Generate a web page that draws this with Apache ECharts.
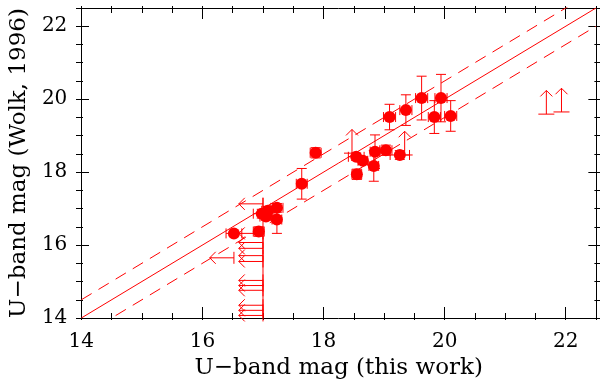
<!DOCTYPE html>
<html>
<head>
<meta charset="utf-8">
<script src="https://cdn.jsdelivr.net/npm/echarts@6/dist/echarts.min.js"></script>
<style>
html, body { margin: 0; background: #fff; }
#chart { width: 600px; height: 385px; }
</style>
</head>
<body>
<div id="chart"></div>
<script>
// detections: U mag in this work vs Wolk (1996), with errors
const detX  = [16.52, 16.93, 16.98, 17.08, 17.05, 17.23, 17.23, 17.64, 17.87, 18.54, 18.65,
               18.55, 18.85, 18.83, 19.03, 19.26, 19.09, 19.36, 19.62, 19.94, 19.83, 20.10];
const detY  = [16.32, 16.37, 16.86, 16.94, 16.78, 17.02, 16.70, 17.68, 18.53, 18.42, 18.31,
               17.94, 18.56, 18.17, 18.60, 18.47, 19.51, 19.70, 20.03, 20.03, 19.51, 19.54];
const detXe = [0.13, 0.09, 0.14, 0.10, 0.10, 0.10, 0.08, 0.09, 0.09, 0.13, 0.08,
               0.08, 0.08, 0.08, 0.10, 0.16, 0.10, 0.10, 0.10, 0.10, 0.10, 0.10];
const detYe = [0.05, 0.13, 0.12, 0.12, 0.10, 0.12, 0.38, 0.42, 0.14, 0.10, 0.10,
               0.14, 0.46, 0.42, 0.14, 0.12, 0.35, 0.42, 0.60, 0.65, 0.45, 0.42];

// upper limits in this work (arrows to the left)
const ulX = [17.0, 17.0, 17.0, 17.0, 17.0, 17.0, 17.0, 17.0, 17.0, 17.0, 17.0, 17.0, 16.52];
const ulY = [17.13, 16.32, 16.07, 15.91, 15.71, 15.55, 15.03, 14.89, 14.76, 14.35, 14.21, 14.07, 15.65];
const ulBarX = [17.0, 17.0];
const ulBarY = [14.0, 17.3];

// lower limits in Wolk (1996) (arrows upward)
const llX = [18.47, 19.34, 21.68, 21.93];
const llY = [18.52, 18.47, 19.59, 19.65];

// one-to-one line and +-0.5 mag band
const diagX = [14, 22.5];
const band = 0.5;

const ulLen = 0.4;
const llLen = 0.65;
const RED = '#ff0000';
const FONT = 'DejaVu Serif';

const W = 600, H = 385;
const G = { left: 76, right: 4, top: 8, bottom: 65 };
const plotW = W - G.left - G.right;
const plotH = H - G.top - G.bottom;

const chart = echarts.init(document.getElementById('chart'));

const lineStyle = { stroke: RED, lineWidth: 1 };
function seg(x1, y1, x2, y2) {
  return { type: 'line', shape: { x1: x1, y1: y1, x2: x2, y2: y2 }, style: lineStyle };
}

function renderErr(params, api) {
  const x = api.value(0), y = api.value(1), xe = api.value(2), ye = api.value(3);
  const c = api.coord([x, y]);
  const l = api.coord([x - xe, y]), r = api.coord([x + xe, y]);
  const t = api.coord([x, y + ye]), b = api.coord([x, y - ye]);
  const cap = 5;
  return {
    type: 'group',
    children: [
      seg(l[0], c[1], r[0], c[1]),
      seg(l[0], c[1] - cap, l[0], c[1] + cap),
      seg(r[0], c[1] - cap, r[0], c[1] + cap),
      seg(c[0], t[1], c[0], b[1]),
      seg(c[0] - cap, t[1], c[0] + cap, t[1]),
      seg(c[0] - cap, b[1], c[0] + cap, b[1])
    ]
  };
}

function renderLeft(params, api) {
  const p = api.coord([api.value(0), api.value(1)]);
  const q = api.coord([api.value(0) - ulLen, api.value(1)]);
  const h = 6;
  return {
    type: 'group',
    children: [
      seg(p[0], p[1], q[0], q[1]),
      seg(p[0], p[1] - 6, p[0], p[1] + 6),
      seg(q[0], q[1], q[0] + h, q[1] - h),
      seg(q[0], q[1], q[0] + h, q[1] + h)
    ]
  };
}

function renderUp(params, api) {
  const p = api.coord([api.value(0), api.value(1)]);
  const q = api.coord([api.value(0), api.value(1) + llLen]);
  const h = 6, w = 8;
  return {
    type: 'group',
    children: [
      seg(p[0], p[1], q[0], q[1]),
      seg(p[0] - w, p[1], p[0] + w, p[1]),
      seg(q[0], q[1], q[0] - h, q[1] + h),
      seg(q[0], q[1], q[0] + h, q[1] + h)
    ]
  };
}

// frame axes carry line and labels; tick axes sit on the opposite edge
// (negative offset) so their outward ticks point into the plot
function axes(dim, posA, posB, name) {
  const span = dim === 'x' ? plotH : plotW;
  const base = {
    type: 'value', min: 14, max: 22.5,
    splitLine: { show: false },
    axisLabel: { show: false },
    axisLine: { show: false },
    axisTick: { show: false }
  };
  const list = [
    Object.assign({}, base, {
      position: posA, interval: 2,
      axisLine: { show: true, onZero: false, lineStyle: { color: '#000', width: 1 } },
      axisLabel: {
        show: true, color: '#000', fontFamily: FONT, fontSize: 20, margin: 14
      },
      name: name, nameLocation: 'middle', nameGap: dim === 'x' ? 39 : 35,
      nameTextStyle: { color: '#000', fontFamily: FONT, fontSize: 23 }
    }),
    Object.assign({}, base, {
      position: posB, interval: 2,
      axisLine: { show: true, onZero: false, lineStyle: { color: '#000', width: 1 } }
    })
  ];
  [posA, posB].forEach(function (pos) {
    list.push(Object.assign({}, base, {
      position: pos, offset: -span, interval: 0.5,
      axisTick: { show: true, length: 7, lineStyle: { color: '#000', width: 1 } }
    }));
    list.push(Object.assign({}, base, {
      position: pos, offset: -span, interval: 2,
      axisTick: { show: true, length: 13, lineStyle: { color: '#000', width: 1 } }
    }));
  });
  return list;
}

const detData = detX.map(function (x, i) { return [x, detY[i], detXe[i], detYe[i]]; });
const ulData = ulX.map(function (x, i) { return [x, ulY[i]]; });
const llData = llX.map(function (x, i) { return [x, llY[i]]; });

chart.setOption({
  animation: false,
  backgroundColor: '#fff',
  grid: G,
  xAxis: axes('x', 'bottom', 'top', 'U\u2212band mag (this work)'),
  yAxis: axes('y', 'left', 'right', 'U\u2212band mag (Wolk, 1996)'),
  series: [
    {
      type: 'line', data: diagX.map(function (x) { return [x, x]; }),
      symbol: 'none', lineStyle: { color: RED, width: 1 }, clip: true
    },
    {
      type: 'line', data: diagX.map(function (x) { return [x, x + band]; }),
      symbol: 'none', lineStyle: { color: RED, width: 1, type: [12, 8] }, clip: true
    },
    {
      type: 'line', data: diagX.map(function (x) { return [x, x - band]; }),
      symbol: 'none', lineStyle: { color: RED, width: 1, type: [12, 8] }, clip: true
    },
    {
      type: 'line', data: ulBarX.map(function (x, i) { return [x, ulBarY[i]]; }),
      symbol: 'none', lineStyle: { color: RED, width: 1 }
    },
    { type: 'custom', renderItem: renderLeft, data: ulData, encode: { x: 0, y: 1 } },
    { type: 'custom', renderItem: renderUp, data: llData, encode: { x: 0, y: 1 } },
    { type: 'custom', renderItem: renderErr, data: detData, encode: { x: 0, y: 1 } },
    {
      type: 'scatter', data: detData.map(function (d) { return [d[0], d[1]]; }),
      symbol: 'circle', symbolSize: 12, itemStyle: { color: RED, opacity: 1 }, z: 5
    }
  ]
});
</script>
</body>
</html>
